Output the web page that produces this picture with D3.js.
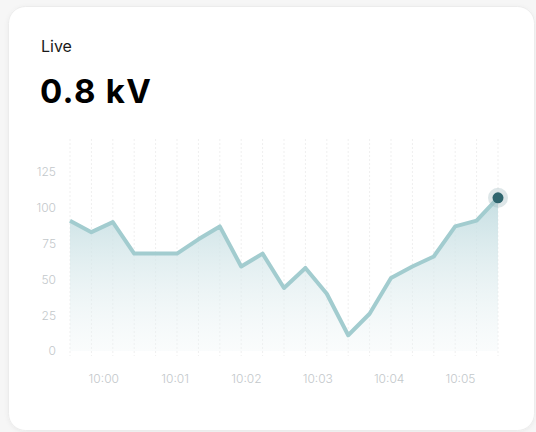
<!DOCTYPE html>
<meta charset="utf-8">
<html lang="en">
<head>
    <title>Live voltage</title>
    <script src="https://d3js.org/d3.v7.min.js"></script>
</head>
<style>
    body { margin: 0; background: #f6f6f6; }
    .card { fill: #fff; stroke: #ececec; stroke-width: 1px; }
    .tick text { font-family: Inter, "Noto Sans", sans-serif; font-size: 12px; fill: #c3c8cb; font-weight: 300; }
    .domain { display: none; }
    .grid line { stroke: #efefef; stroke-dasharray: 2, 2; }
</style>
<body>
<script>
    var times = ["09:59:32", "09:59:50", "10:00:08", "10:00:26", "10:00:44", "10:01:02", "10:01:20",
        "10:01:38", "10:01:56", "10:02:14", "10:02:32", "10:02:50", "10:03:08", "10:03:26",
        "10:03:44", "10:04:02", "10:04:20", "10:04:38", "10:04:56", "10:05:14", "10:05:32"];
    var values = [91, 83, 90, 68, 68, 68, 78, 87, 59, 68, 44, 58, 40, 11, 26, 51, 59, 66, 87, 91, 107];
    var yTicks = [0, 25, 50, 75, 100, 125];

    var parse = d3.timeParse("%H:%M:%S");
    var data = times.map((t, i) => ({t: parse(t), v: values[i]}));

    var svg = d3.select("body").append("svg").attr("width", 536).attr("height", 432);

    var defs = svg.append("defs");
    var filt = defs.append("filter").attr("id", "shadow").attr("x", "-10%").attr("y", "-10%").attr("width", "120%").attr("height", "120%");
    filt.append("feDropShadow").attr("dx", 0).attr("dy", 1).attr("stdDeviation", 2).attr("flood-color", "#000").attr("flood-opacity", 0.05);

    svg.append("rect").attr("class", "card")
        .attr("x", 8.5).attr("y", 6.5).attr("width", 526).attr("height", 424)
        .attr("rx", 17).attr("filter", "url(#shadow)");

    svg.append("text").attr("x", 41).attr("y", 52)
        .style("font-family", "Inter, sans-serif").style("font-size", "16px").style("fill", "#1a1a1a")
        .text("Live");
    svg.append("text").attr("x", 40).attr("y", 103)
        .style("font-family", "Inter, sans-serif").style("font-size", "33px").style("font-weight", 700)
        .style("letter-spacing", "1.3px").style("fill", "#000")
        .text("0.8 kV");

    var x = d3.scaleTime().domain(d3.extent(data, d => d.t)).range([70, 498]);
    var y = d3.scaleLinear().domain([0, 125]).range([351, 172]);

    // vertical dashed grid, one per point
    svg.append("g").attr("class", "grid").selectAll("line").data(data).join("line")
        .attr("x1", d => x(d.t)).attr("x2", d => x(d.t))
        .attr("y1", 139).attr("y2", 356);

    var grad = defs.append("linearGradient").attr("id", "fade")
        .attr("x1", 0).attr("x2", 0).attr("y1", 0).attr("y2", 1);
    grad.append("stop").attr("offset", "0%").attr("stop-color", "#c3dde1").attr("stop-opacity", 0.95);
    grad.append("stop").attr("offset", "100%").attr("stop-color", "#eef5f6").attr("stop-opacity", 0.3);

    svg.append("path").datum(data)
        .attr("fill", "url(#fade)")
        .attr("d", d3.area().x(d => x(d.t)).y0(y(0)).y1(d => y(d.v)));

    svg.append("path").datum(data)
        .attr("fill", "none").attr("stroke", "#a2cccf").attr("stroke-width", 4)
        .attr("stroke-linejoin", "round")
        .attr("d", d3.line().x(d => x(d.t)).y(d => y(d.v)));

    var last = data[data.length - 1];
    svg.append("circle").attr("cx", x(last.t)).attr("cy", y(last.v)).attr("r", 10)
        .attr("fill", "#9db8bd").attr("fill-opacity", 0.35);
    svg.append("circle").attr("cx", x(last.t)).attr("cy", y(last.v)).attr("r", 5.5)
        .attr("fill", "#2f656e");

    svg.append("g").attr("transform", "translate(56,0)")
        .call(d3.axisLeft(y).tickValues(yTicks).tickSize(0).tickPadding(0));

    svg.append("g").attr("transform", "translate(0,372)")
        .call(d3.axisBottom(x).ticks(d3.timeMinute.every(1)).tickFormat(d3.timeFormat("%H:%M")).tickSize(0).tickPadding(2));
</script>
</body>
</html>
